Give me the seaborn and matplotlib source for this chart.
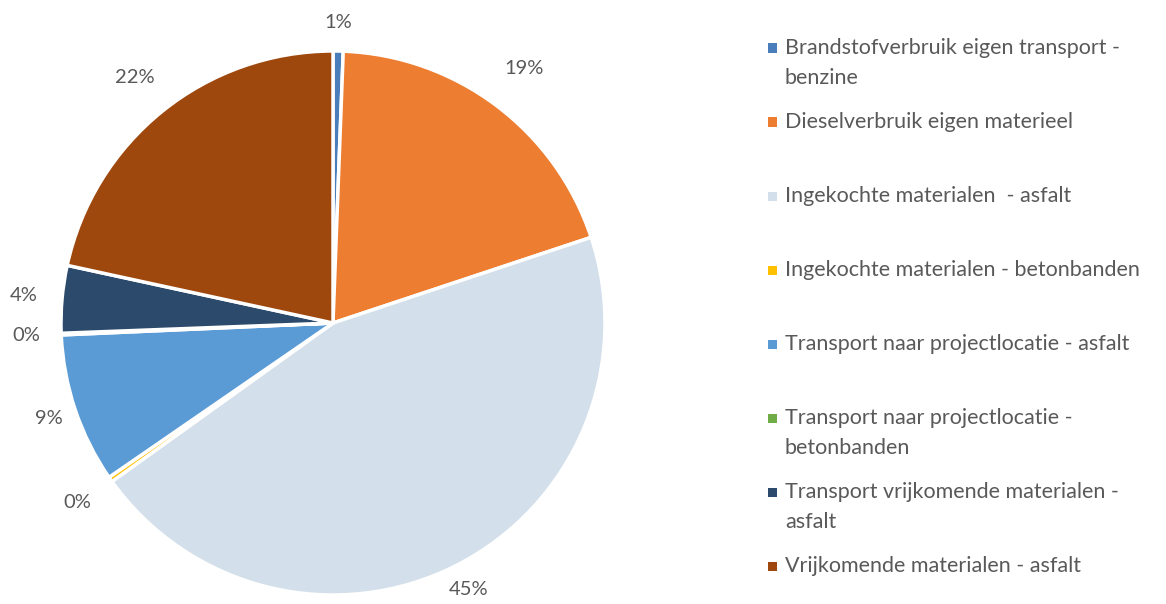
import numpy as np
import matplotlib.pyplot as plt
from matplotlib.patches import Rectangle
import seaborn as sns

categories = [
    "Brandstofverbruik eigen transport -\nbenzine",
    "Dieselverbruik eigen materieel",
    "Ingekochte materialen  - asfalt",
    "Ingekochte materialen - betonbanden",
    "Transport naar projectlocatie - asfalt",
    "Transport naar projectlocatie -\nbetonbanden",
    "Transport vrijkomende materialen -\nasfalt",
    "Vrijkomende materialen - asfalt",
]
shares = [0.6, 19.3, 45.2, 0.3, 8.9, 0.1, 4.0, 21.6]
colors = ["#4A7EBB", "#ED7D31", "#D3DFEA", "#FFC000",
          "#5B9BD5", "#70AD47", "#2C4A6B", "#9E480E"]

sns.set_theme(style="white")
plt.rcParams["font.family"] = ["Lato", "DejaVu Sans"]
text_color = "#595959"

W, H = 1166, 604
fig = plt.figure(figsize=(W / 100, H / 100), dpi=100)

# pie centre (333, 323) px, radius 272 px
cx, cy, r = 333, 323, 272
ax = fig.add_axes([(cx - r) / W, (H - cy - r) / H, 2 * r / W, 2 * r / H])

palette = sns.color_palette(colors)
wedges, texts, autotexts = ax.pie(
    shares, colors=palette, startangle=90, counterclock=False,
    autopct=lambda p: f"{p:.0f}%", pctdistance=1.14,
    wedgeprops=dict(edgecolor="white", linewidth=2.5),
    textprops=dict(color=text_color, fontsize=14.5),
)
# label distances like the excel layout (labels sit just outside the rim)
label_dist = [1.105, 1.17, 1.10, 1.15, 1.10, 1.13, 1.14, 1.16]
for w, t, d in zip(wedges, autotexts, label_dist):
    ang = np.deg2rad((w.theta1 + w.theta2) / 2)
    t.set_position((d * np.cos(ang), d * np.sin(ang)))
ax.set_xlim(-1, 1)
ax.set_ylim(-1, 1)
ax.set_aspect("equal")

# manual legend, equally spaced like the original
for i, (lab, col) in enumerate(zip(categories, colors)):
    y = 48 + i * 74
    fig.patches.append(Rectangle(((768) / W, 1 - (y + 4.5) / H), 9 / W, 9 / H,
                                 transform=fig.transFigure, facecolor=col,
                                 edgecolor="none"))
    fig.text(785 / W, 1 - (y - 10) / H, lab, ha="left", va="top",
             fontsize=15.5, color=text_color, linespacing=1.6)

fig.savefig("out.png", dpi=100)
